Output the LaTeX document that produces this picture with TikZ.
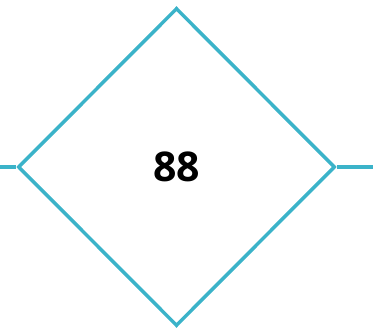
\documentclass[tikz,border=0pt]{standalone}
\usepackage{fontspec}
\setmainfont{Open Sans}
\usetikzlibrary{shapes.geometric}
\definecolor{rombo}{HTML}{3BB3C9}
\tikzset{
  scelta/.style = {diamond, draw=rombo, line width=3.5pt, aspect=1, minimum width=317pt, minimum height=318pt, inner sep=0, font=\fontsize{41}{49}\selectfont\bfseries},
  link/.style   = {draw=rombo, line width=3.5pt}
}

\begin{document}
\begin{tikzpicture}[x=1pt,y=-1pt]
  \useasboundingbox (0,0) rectangle (373,329);
  \node[scelta] (D) at (176.5,167) {88};
  \coordinate (in)  at (0,167);   \draw[link] (in)--(D.west);
  \coordinate (out) at (373,167); \draw[link] (D.east)--(out);
\end{tikzpicture}
\end{document}
